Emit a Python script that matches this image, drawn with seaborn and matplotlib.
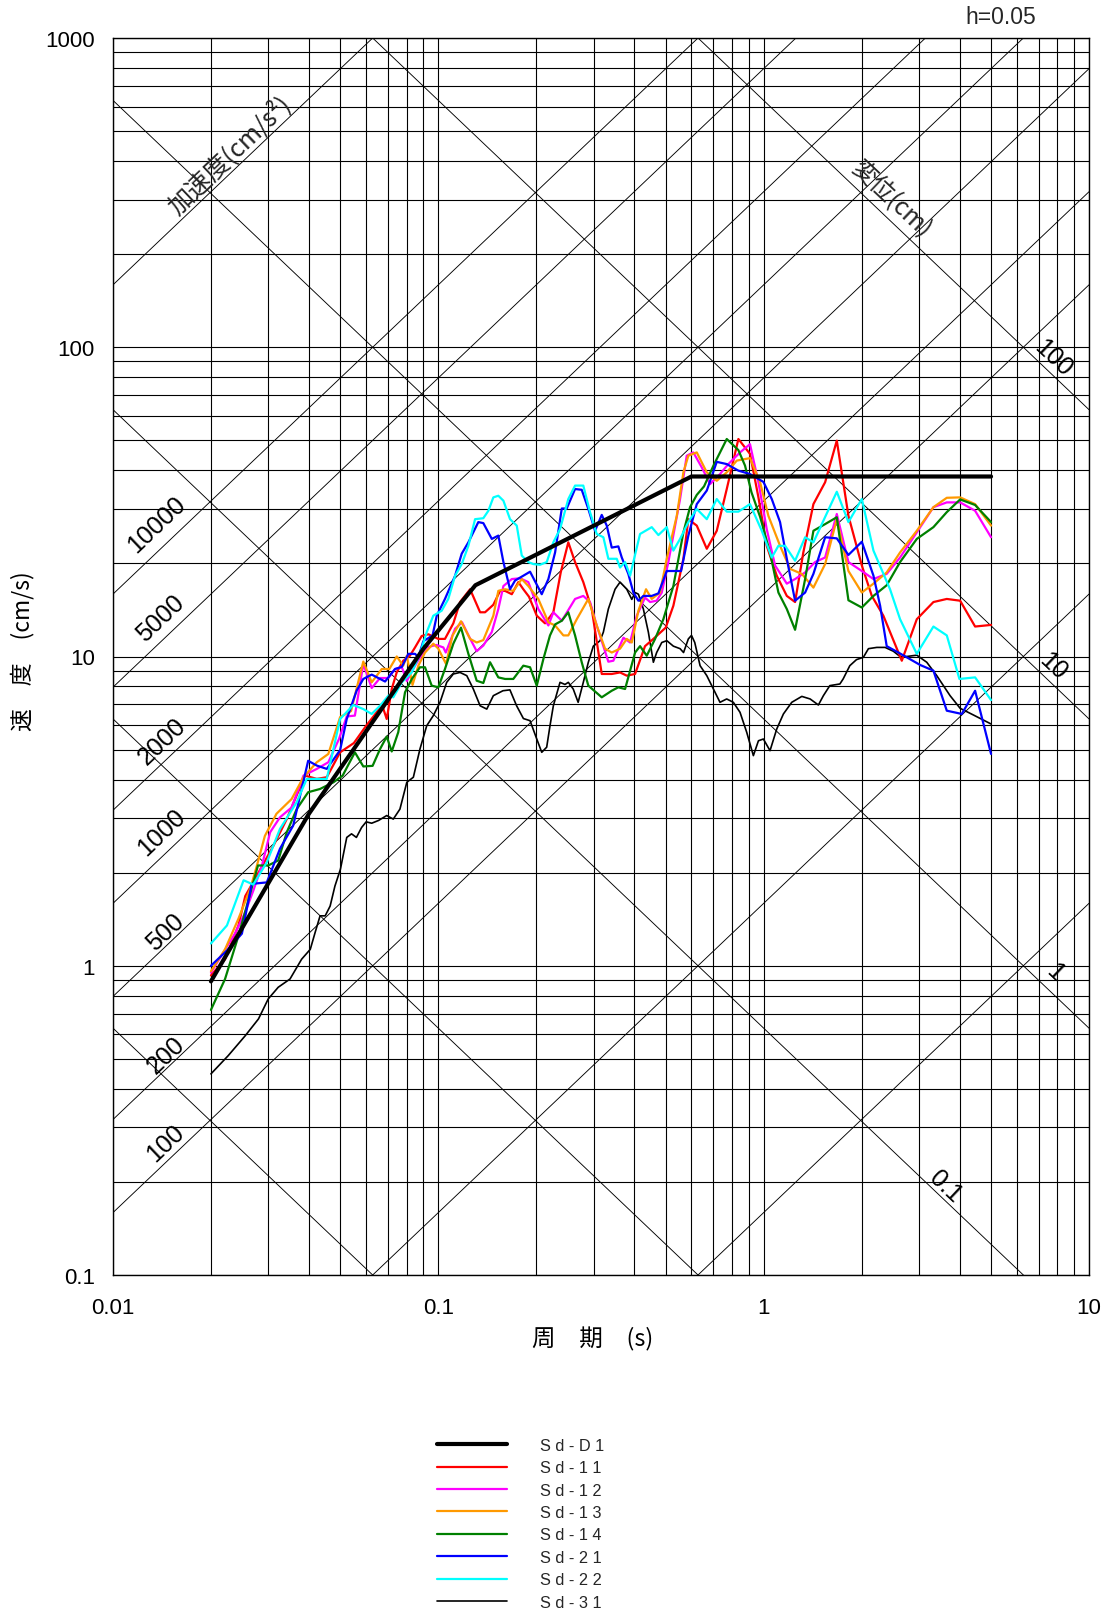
import numpy as np
import pandas as pd
import matplotlib
matplotlib.use("Agg")
import matplotlib.pyplot as plt
from matplotlib.ticker import LogLocator, NullFormatter
import seaborn as sns

# ---------------- data: (period [s], pseudo velocity [cm/s]) ----------------
SD_D1 = [(0.02, 0.89), (0.04, 3.1), (0.09, 10.6), (0.13, 17.0), (0.6, 38.2), (5.0, 38.2)]

SD_11 = [(0.02, 0.93), (0.0221, 1.05), (0.0243, 1.35), (0.0255, 1.68), (0.0277, 1.96), (0.0311, 2.44),
         (0.0342, 2.98), (0.0389, 4.12), (0.0423, 4.02), (0.0454, 4.07), (0.0499, 4.90), (0.055, 5.25),
         (0.06, 5.97), (0.0647, 6.61), (0.067, 7.02), (0.0694, 6.28), (0.0719, 7.85), (0.0745, 8.89),
         (0.078, 9.69), (0.0818, 10.06), (0.0848, 10.7), (0.0889, 11.65), (0.0932, 11.8), (0.1, 11.4),
         (0.1048, 11.4), (0.1112, 12.8), (0.1166, 15.0), (0.1252, 16.5), (0.1344, 13.9), (0.1392, 13.9),
         (0.1476, 14.7), (0.1548, 16.3), (0.1604, 16.3), (0.1682, 15.9), (0.1762, 17.4), (0.1825, 16.5),
         (0.19, 15.6), (0.2007, 13.55), (0.2128, 12.8), (0.2257, 13.9), (0.2378, 18.7), (0.2509, 23.4),
         (0.2632, 20.2), (0.279, 17.4), (0.2962, 14.24), (0.3179, 8.78), (0.3412, 8.78), (0.3619, 8.88),
         (0.3795, 8.67), (0.4025, 8.78), (0.4318, 10.8), (0.4581, 11.4), (0.5, 12.4), (0.5278, 14.6),
         (0.5666, 20.7), (0.5868, 27.8), (0.6228, 26.5), (0.6686, 22.3), (0.7175, 25.5), (0.7701, 34.8),
         (0.8361, 50.5), (0.9078, 45.2), (0.9636, 32.7), (1.022, 22.8), (1.097, 18.25), (1.178, 15.7),
         (1.249, 15.0), (1.324, 21.7), (1.422, 31.1), (1.545, 36.6), (1.678, 49.9), (1.822, 28.5),
         (2.003, 19.7), (2.15, 15.7), (2.333, 13.55), (2.658, 9.69), (2.956, 13.2), (3.325, 15.0),
         (3.655, 15.35), (4.017, 15.15), (4.466, 12.5), (5.0, 12.65)]

SD_12 = [(0.02, 0.95), (0.0237, 1.27), (0.0255, 1.49), (0.027, 1.75), (0.0287, 2.11), (0.0304, 2.70),
         (0.0326, 3.02), (0.0354, 3.25), (0.0385, 4.12), (0.0423, 4.33), (0.0459, 4.55), (0.0495, 5.41),
         (0.0523, 6.40), (0.0554, 6.44), (0.0588, 9.46), (0.0624, 7.91), (0.0662, 8.52), (0.0702, 8.52),
         (0.0736, 9.11), (0.0772, 9.25), (0.08, 8.33), (0.0833, 9.04), (0.0872, 9.81), (0.0921, 10.7),
         (0.0985, 10.9), (0.1036, 10.7), (0.1054, 10.3), (0.1126, 12.3), (0.1183, 12.9), (0.1243, 11.6),
         (0.1312, 10.4), (0.1375, 10.85), (0.146, 12.0), (0.1529, 14.24), (0.1585, 16.9), (0.1682, 17.8),
         (0.1783, 17.9), (0.1891, 17.4), (0.2029, 14.24), (0.2179, 12.6), (0.2257, 13.9), (0.2396, 13.05),
         (0.2632, 15.35), (0.279, 15.7), (0.2926, 15.0), (0.3068, 12.6), (0.3331, 9.62), (0.3451, 9.69),
         (0.3706, 11.5), (0.3885, 11.1), (0.4073, 13.55), (0.4318, 15.5), (0.4478, 15.0), (0.4689, 15.15),
         (0.4862, 16.1), (0.5094, 20.2), (0.5534, 32.3), (0.5801, 44.6), (0.6079, 45.7), (0.6451, 40.9),
         (0.6842, 36.1), (0.7341, 38.9), (0.7788, 41.9), (0.8459, 45.7), (0.9078, 48.6), (0.9636, 36.6),
         (1.022, 25.8), (1.084, 19.7), (1.178, 17.2), (1.249, 17.8), (1.341, 18.7), (1.439, 20.2),
         (1.545, 20.9), (1.678, 28.9), (1.822, 20.2), (2.003, 18.9), (2.175, 17.8), (2.389, 18.5),
         (2.626, 20.9), (2.956, 25.2), (3.325, 30.4), (3.655, 31.5), (4.017, 31.5), (4.466, 29.6), (5.0, 24.3)]

SD_13 = [(0.02, 0.96), (0.0221, 1.13), (0.0243, 1.42), (0.0264, 1.77), (0.0277, 2.11), (0.0293, 2.63),
         (0.0318, 3.10), (0.0354, 3.46), (0.0385, 4.07), (0.0423, 4.55), (0.0459, 4.84), (0.0499, 6.37),
         (0.0539, 6.66), (0.0588, 9.63), (0.0624, 8.25), (0.067, 9.11), (0.0707, 9.11), (0.0745, 10.0),
         (0.078, 9.34), (0.08, 10.06), (0.0833, 8.09), (0.0868, 9.34), (0.091, 10.3), (0.0965, 11.0),
         (0.1, 10.6), (0.1056, 9.46), (0.1106, 11.7), (0.1174, 13.0), (0.1252, 11.4), (0.1312, 11.1),
         (0.1375, 11.3), (0.1476, 13.55), (0.1529, 16.3), (0.1604, 16.5), (0.17, 16.3), (0.1805, 17.8),
         (0.1891, 16.9), (0.2029, 15.35), (0.2179, 12.9), (0.2285, 12.6), (0.2423, 11.7), (0.2509, 11.7),
         (0.2664, 13.2), (0.2891, 15.35), (0.3068, 12.6), (0.3254, 10.6), (0.3412, 10.3), (0.3619, 10.6),
         (0.3795, 11.4), (0.3932, 11.1), (0.412, 14.06), (0.4349, 16.5), (0.4529, 15.35), (0.4802, 16.1),
         (0.5036, 20.7), (0.5407, 28.5), (0.5666, 39.4), (0.5868, 44.6), (0.6228, 45.7), (0.6686, 39.4),
         (0.7175, 37.0), (0.7701, 39.4), (0.8267, 43.0), (0.9078, 43.8), (0.975, 36.6), (1.034, 28.5),
         (1.123, 22.8), (1.206, 19.2), (1.31, 18.5), (1.422, 16.7), (1.545, 19.9), (1.678, 27.8),
         (1.822, 18.9), (2.003, 16.1), (2.175, 17.2), (2.389, 18.7), (2.626, 21.7), (2.956, 25.5),
         (3.325, 30.4), (3.655, 32.6), (4.017, 32.7), (4.466, 31.1), (5.0, 26.5)]

SD_14 = [(0.02, 0.72), (0.0221, 0.906), (0.0243, 1.25), (0.0264, 1.71), (0.0279, 2.11), (0.03, 2.11),
         (0.0322, 2.19), (0.0342, 2.70), (0.0367, 3.21), (0.0398, 3.64), (0.0433, 3.73), (0.0476, 3.92),
         (0.0508, 4.12), (0.0554, 4.90), (0.0588, 4.41), (0.0628, 4.43), (0.0662, 5.02), (0.0694, 5.51),
         (0.0719, 4.93), (0.0753, 5.69), (0.079, 7.66), (0.0829, 8.46), (0.0878, 9.23), (0.091, 9.23),
         (0.0954, 8.05), (0.1, 7.95), (0.1048, 9.11), (0.1112, 11.0), (0.1174, 12.4), (0.1237, 10.2),
         (0.1312, 8.35), (0.1375, 8.21), (0.1442, 9.58), (0.1529, 8.56), (0.1604, 8.46), (0.17, 8.46),
         (0.1825, 9.34), (0.1914, 9.23), (0.2007, 8.05), (0.2103, 9.81), (0.2204, 11.7), (0.2285, 12.7),
         (0.2396, 13.05), (0.2509, 13.9), (0.2632, 11.7), (0.2759, 9.58), (0.2891, 8.05), (0.3179, 7.38),
         (0.3412, 7.75), (0.3575, 7.95), (0.375, 7.85), (0.4025, 10.3), (0.4169, 10.8), (0.4371, 10.06),
         (0.4637, 11.4), (0.4917, 13.2), (0.5278, 16.9), (0.5666, 25.2), (0.5938, 30.4), (0.6228, 33.3),
         (0.6558, 35.5), (0.7007, 41.4), (0.7701, 50.5), (0.8361, 46.5), (0.8766, 41.4), (0.917, 34.0),
         (0.975, 28.3), (1.046, 21.7), (1.11, 16.1), (1.178, 14.24), (1.249, 12.2), (1.341, 17.8),
         (1.422, 25.5), (1.545, 26.8), (1.678, 28.2), (1.822, 15.2), (2.003, 14.4), (2.175, 15.7),
         (2.389, 17.0), (2.626, 20.2), (2.956, 24.0), (3.325, 26.2), (3.655, 29.3), (4.017, 32.2),
         (4.466, 30.9), (5.0, 27.2)]

SD_21 = [(0.02, 1.00), (0.0224, 1.12), (0.0249, 1.27), (0.0267, 1.84), (0.0297, 1.86), (0.0326, 2.39),
         (0.0358, 2.84), (0.0398, 4.60), (0.0423, 4.44), (0.0454, 4.33), (0.0499, 4.98), (0.0523, 6.28),
         (0.0561, 7.76), (0.0588, 8.46), (0.0624, 8.74), (0.0686, 8.30), (0.0736, 9.11), (0.0772, 9.25),
         (0.0809, 10.2), (0.0848, 10.2), (0.0868, 9.94), (0.0899, 11.2), (0.096, 11.7), (0.0989, 13.55),
         (0.1048, 15.35), (0.1126, 18.25), (0.118, 21.5), (0.1237, 23.4), (0.1327, 27.2), (0.1375, 27.0),
         (0.146, 24.0), (0.1529, 24.6), (0.1585, 20.2), (0.1661, 16.5), (0.1721, 17.6), (0.1825, 18.25),
         (0.1914, 18.8), (0.2079, 15.9), (0.2179, 17.8), (0.2285, 21.7), (0.2396, 30.1), (0.2481, 30.1),
         (0.2632, 34.8), (0.2759, 34.6), (0.2891, 30.0), (0.3032, 25.5), (0.3179, 28.7), (0.3294, 26.5),
         (0.3412, 22.5), (0.3575, 22.7), (0.3663, 20.9), (0.3837, 18.5), (0.3976, 16.1), (0.412, 15.15),
         (0.4268, 15.7), (0.4529, 15.7), (0.4747, 16.0), (0.5036, 18.9), (0.5278, 18.9), (0.5574, 18.9),
         (0.5868, 24.6), (0.6228, 31.1), (0.6686, 34.4), (0.7175, 42.6), (0.7701, 41.9), (0.8361, 39.9),
         (0.9078, 38.9), (0.998, 36.7), (1.059, 32.3), (1.123, 27.2), (1.178, 20.7), (1.249, 15.15),
         (1.341, 16.1), (1.422, 18.5), (1.545, 24.3), (1.678, 24.1), (1.822, 21.3), (2.003, 23.5),
         (2.175, 18.25), (2.28, 14.6), (2.389, 10.8), (2.595, 10.3), (3.026, 9.39), (3.325, 9.0),
         (3.655, 6.68), (4.065, 6.52), (4.466, 7.75), (5.0, 4.84)]

SD_22 = [(0.02, 1.18), (0.0224, 1.35), (0.0252, 1.89), (0.027, 1.83), (0.0297, 2.16), (0.0326, 2.77),
         (0.0367, 3.38), (0.0394, 4.02), (0.0454, 4.02), (0.0499, 6.28), (0.0548, 6.97), (0.0588, 6.76),
         (0.0624, 6.52), (0.0662, 6.93), (0.0702, 7.47), (0.0727, 7.38), (0.0772, 8.25), (0.0829, 8.89),
         (0.0878, 10.2), (0.0921, 11.98), (0.0965, 13.55), (0.1024, 14.06), (0.1073, 15.35), (0.1126, 18.25),
         (0.118, 19.9), (0.1237, 22.8), (0.1297, 27.8), (0.1375, 28.0), (0.1425, 29.6), (0.1476, 32.7),
         (0.1529, 33.1), (0.1585, 31.9), (0.1661, 27.8), (0.1742, 26.5), (0.1805, 21.2), (0.1891, 20.2),
         (0.1959, 19.9), (0.2054, 19.8), (0.2154, 20.2), (0.2257, 23.4), (0.2366, 25.8), (0.2509, 32.3),
         (0.2632, 35.7), (0.279, 35.7), (0.2926, 29.3), (0.3068, 24.9), (0.3216, 24.3), (0.3331, 20.7),
         (0.3535, 20.7), (0.3619, 19.4), (0.375, 20.2), (0.3885, 18.25), (0.4169, 24.9), (0.4529, 26.2),
         (0.4747, 24.7), (0.5036, 26.2), (0.5278, 22.0), (0.5534, 24.0), (0.5868, 27.2), (0.6228, 30.0),
         (0.6686, 27.8), (0.7175, 32.3), (0.7701, 29.4), (0.8361, 29.4), (0.9078, 31.1), (0.9867, 25.5),
         (1.059, 20.9), (1.11, 22.8), (1.164, 22.8), (1.249, 20.4), (1.341, 24.3), (1.422, 23.4),
         (1.678, 34.1), (1.822, 27.2), (2.003, 32.3), (2.175, 22.0), (2.446, 16.5), (2.626, 13.2),
         (2.956, 10.2), (3.325, 12.5), (3.655, 11.7), (3.997, 8.46), (4.466, 8.56), (5.0, 7.23)]

SD_31 = [(0.02, 0.447), (0.0226, 0.512), (0.0255, 0.594), (0.028, 0.673), (0.03, 0.781), (0.0322, 0.852),
         (0.035, 0.906), (0.038, 1.05), (0.0404, 1.13), (0.0418, 1.28), (0.0433, 1.45), (0.0449, 1.45),
         (0.0465, 1.56), (0.0481, 1.81), (0.05, 2.05), (0.0523, 2.60), (0.0541, 2.67), (0.056, 2.60),
         (0.0581, 2.80), (0.06, 2.92), (0.0624, 2.89), (0.0655, 2.95), (0.0694, 3.06), (0.0727, 2.98),
         (0.0762, 3.21), (0.08, 3.92), (0.0838, 4.07), (0.0878, 5.02), (0.0921, 5.97), (0.0965, 6.44),
         (0.1012, 7.11), (0.1061, 8.25), (0.1112, 8.78), (0.1166, 8.88), (0.1223, 8.67), (0.1281, 7.85),
         (0.1344, 6.93), (0.1409, 6.76), (0.1476, 7.47), (0.158, 7.75), (0.166, 7.8), (0.174, 6.93),
         (0.1826, 6.3), (0.1914, 6.20), (0.2007, 5.41), (0.2079, 4.90), (0.2153, 5.09), (0.2204, 5.97),
         (0.2257, 6.93), (0.2366, 8.25), (0.2451, 8.12), (0.2509, 8.25), (0.2598, 7.85), (0.269, 7.11),
         (0.279, 8.25), (0.2891, 9.58), (0.2995, 10.8), (0.3141, 11.25), (0.3215, 11.98), (0.3331, 14.24),
         (0.3493, 16.5), (0.3619, 17.4), (0.3795, 16.5), (0.3932, 15.3), (0.4027, 16.1), (0.4121, 15.9),
         (0.4268, 14.24), (0.4422, 11.98), (0.4581, 9.58), (0.4689, 10.3), (0.4862, 11.1), (0.5038, 11.25),
         (0.5278, 10.8), (0.5534, 10.6), (0.5672, 10.3), (0.5868, 11.4), (0.6, 11.7), (0.614, 11.1),
         (0.6376, 9.34), (0.6686, 8.67), (0.7007, 7.85), (0.7341, 7.11), (0.7697, 7.29), (0.8068, 7.11),
         (0.8459, 6.60), (0.8868, 5.69), (0.9297, 4.78), (0.9636, 5.34), (0.998, 5.41), (1.046, 4.96),
         (1.097, 5.83), (1.15, 6.52), (1.22, 7.11), (1.31, 7.43), (1.389, 7.29), (1.473, 6.97),
         (1.526, 7.47), (1.597, 8.05), (1.715, 8.15), (1.755, 8.46), (1.84, 9.34), (1.929, 9.77),
         (2.025, 9.94), (2.099, 10.6), (2.227, 10.7), (2.362, 10.7), (2.504, 10.4), (2.626, 10.0),
         (2.754, 10.0), (2.956, 10.1), (3.172, 9.58), (3.405, 8.67), (3.741, 7.47), (4.017, 6.80),
         (4.412, 6.47), (5.0, 6.05)]

SERIES_NAMES = ["S d - D 1", "S d - 1 1", "S d - 1 2", "S d - 1 3",
                "S d - 1 4", "S d - 2 1", "S d - 2 2", "S d - 3 1"]
SERIES_DATA = [SD_D1, SD_11, SD_12, SD_13, SD_14, SD_21, SD_22, SD_31]

# tripartite reference lines
ACC_LINES = [1, 10, 100, 200, 500, 1000, 2000, 5000, 10000, 100000]      # cm/s^2
ACC_LABELS = ["100", "200", "500", "1000", "2000", "5000", "10000"]
DISP_LINES = [0.001, 0.01, 0.1, 1, 10, 100]                               # cm
DISP_LABELS = ["0.1", "1", "10", "100"]

X_TICKS = [0.01, 0.1, 1, 10]
X_TICK_LABELS = ["0.01", "0.1", "1", "10"]
Y_TICKS = [0.1, 1, 10, 100, 1000]
Y_TICK_LABELS = ["0.1", "1", "10", "100", "1000"]

# ---------------- styles ----------------
COLORS = ["black", "#ff0000", "#ff00ff", "#ff9900", "#008000", "#0000ff", "#00ffff", "black"]
WIDTHS = [3.0, 1.6, 1.6, 1.6, 1.6, 1.6, 1.6, 1.2]
ZORD = [10, 4, 4, 4, 4, 4, 4, 3]

sns.set_theme(style="white")
plt.rcParams["font.family"] = ["Liberation Sans", "DejaVu Sans"]
CJK = ["Noto Sans CJK JP", "DejaVu Sans"]

frames = []
for name, pts in zip(SERIES_NAMES, SERIES_DATA):
    frames.append(pd.DataFrame(pts, columns=["period", "velocity"]).assign(series=name))
df = pd.concat(frames, ignore_index=True)

W, H = 1108, 1615
fig = plt.figure(figsize=(W / 100, H / 100), dpi=100)
ax = fig.add_axes([113 / W, 1 - 1276 / H, 976 / W, 1237 / H])
ax.set_xscale("log")
ax.set_yscale("log")
ax.set_xlim(0.01, 10)
ax.set_ylim(0.1, 1000)

ax.set_xticks(X_TICKS, labels=X_TICK_LABELS)
ax.set_yticks(Y_TICKS, labels=Y_TICK_LABELS)
ax.xaxis.set_minor_locator(LogLocator(base=10, subs=np.arange(2, 10), numticks=50))
ax.yaxis.set_minor_locator(LogLocator(base=10, subs=np.arange(2, 10), numticks=50))
ax.xaxis.set_minor_formatter(NullFormatter())
ax.yaxis.set_minor_formatter(NullFormatter())
ax.grid(True, which="both", color="black", linewidth=0.8)
ax.set_axisbelow(True)
ax.tick_params(which="both", length=0, labelsize=16, colors="black")
ax.tick_params(axis="x", pad=16)
ax.tick_params(axis="y", pad=13)
for s in ax.spines.values():
    s.set_color("black")
    s.set_linewidth(1.0)

# diagonal acceleration / displacement lines
T_edge = np.array([0.01, 10.0])
for a in ACC_LINES:
    ax.plot(T_edge, a * T_edge / (2 * np.pi), color="black", lw=0.65, zorder=1)
for d in DISP_LINES:
    ax.plot(T_edge, 2 * np.pi * d / T_edge, color="black", lw=0.65, zorder=1)

# spectra
handles = {}
for name, c, lw, z in zip(SERIES_NAMES, COLORS, WIDTHS, ZORD):
    sub = df[df["series"] == name]
    sns.lineplot(data=sub, x="period", y="velocity", color=c, linewidth=lw, ax=ax,
                 estimator=None, sort=False, label=name, zorder=z)
    handles[name] = ax.lines[-1]
if ax.get_legend() is not None:
    ax.get_legend().remove()

ax.set_xlim(0.01, 10)
ax.set_ylim(0.1, 1000)

# diagonal labels
ROT = 43.5
acc_pos = {"10000": (0.01362, 26.8), "5000": (0.01395, 13.4), "2000": (0.01415, 5.33),
           "1000": (0.01415, 2.71), "500": (0.01445, 1.29), "200": (0.0146, 0.518),
           "100": (0.01455, 0.269)}
for lab in ACC_LABELS:
    x, y = acc_pos[lab]
    ax.text(x, y, lab, rotation=ROT, rotation_mode="anchor", ha="center", va="center",
            fontsize=18, color="black", zorder=6)
disp_pos = {"100": (7.76, 93.0), "10": (7.76, 9.32), "1": (7.87, 0.955), "0.1": (3.61, 0.194)}
for lab in DISP_LABELS:
    x, y = disp_pos[lab]
    ax.text(x, y, lab, rotation=-ROT, rotation_mode="anchor", ha="center", va="center",
            fontsize=18, color="black", zorder=6)

ax.text(0.02273, 421.6, "加速度(cm/s²)", rotation=ROT, rotation_mode="anchor",
        ha="center", va="center", fontsize=18, family=CJK, zorder=6)
ax.text(2.476, 301.6, "変位(cm)", rotation=-ROT, rotation_mode="anchor",
        ha="center", va="center", fontsize=17.5, family=CJK, zorder=6)

# axis labels
ax.set_xlabel("周　期　(s)", fontsize=17, family=CJK, color="black")
ax.xaxis.label.set_va("center")
ax.xaxis.set_label_coords((593 - 113) / 976, (1276 - 1339) / 1237)
ax.set_ylabel("速　度　(cm/s)", fontsize=16.5, family=CJK, color="black")
ax.yaxis.label.set_va("center")
ax.yaxis.set_label_coords((23 - 113) / 976, (1276 - 651) / 1237)

fig.text(1001 / W, 1 - 18 / H, "h=0.05", ha="center", va="center", fontsize=16.5)

# legend
fig.legend([handles[n] for n in SERIES_NAMES], SERIES_NAMES, loc="upper left",
           bbox_to_anchor=(437 / W, 1 - 1439 / H), frameon=False, fontsize=11.8,
           handlelength=4.3, handletextpad=2.0, labelspacing=0.45,
           borderpad=0, borderaxespad=0)

fig.savefig("out.png", dpi=100)
